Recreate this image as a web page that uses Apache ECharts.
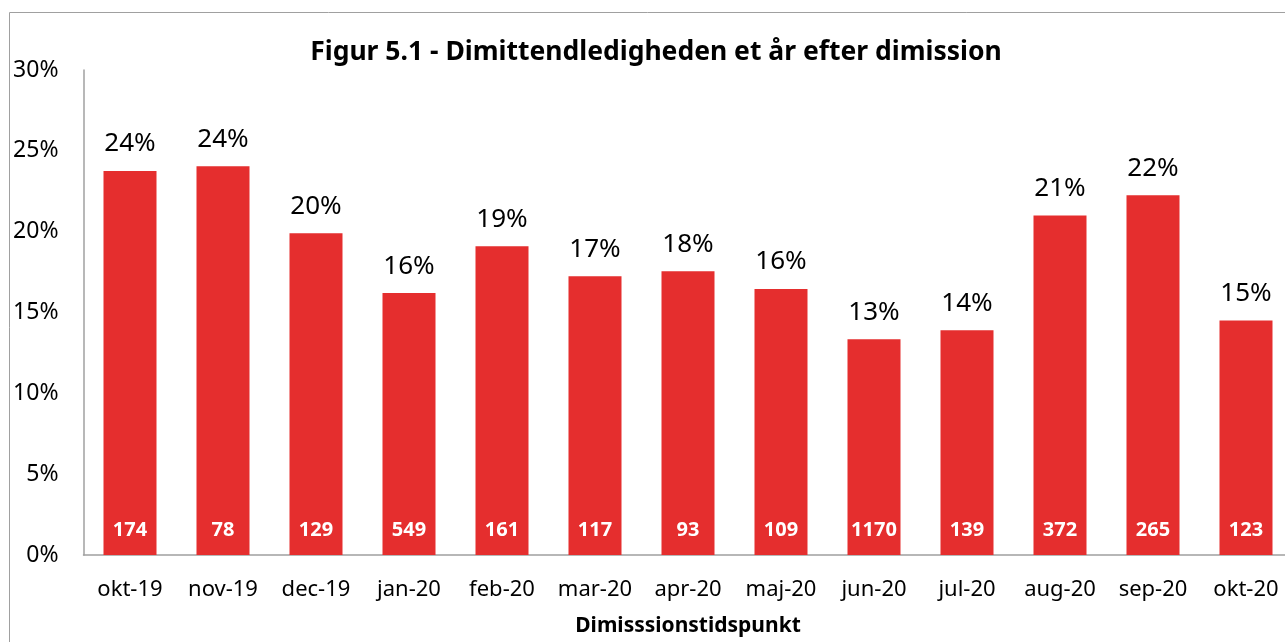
<!DOCTYPE html>
<html><head><meta charset="utf-8">
<script src="https://cdn.jsdelivr.net/npm/echarts@6/dist/echarts.min.js"></script>
<style>html,body{margin:0;padding:0;background:#fff}#c{width:1285px;height:642px}</style>
</head><body><div id="c"></div>
<script>
const categories = ['okt-19','nov-19','dec-19','jan-20','feb-20','mar-20','apr-20','maj-20','jun-20','jul-20','aug-20','sep-20','okt-20'];
const rates = [23.75, 24.05, 19.9, 16.2, 19.1, 17.25, 17.55, 16.45, 13.35, 13.9, 21.0, 22.25, 14.5];
const counts = [174, 78, 129, 549, 161, 117, 93, 109, 1170, 139, 372, 265, 123];
const yTicks = [0, 5, 10, 15, 20, 25, 30];

const font = '"Noto Sans", "Open Sans", sans-serif';
const chart = echarts.init(document.getElementById('c'), null, {renderer: 'canvas'});
chart.setOption({
  animation: false,
  title: {
    text: 'Figur 5.1 - Dimittendledigheden et år efter dimission',
    left: 651, top: 34, textAlign: 'center',
    textStyle: {fontFamily: font, fontSize: 26.5, fontWeight: 'bold', color: '#000'}
  },
  graphic: [{
    type: 'rect', shape: {x: 9.5, y: 12.5, width: 1300, height: 700},
    style: {fill: 'none', stroke: '#A0A0A0', lineWidth: 1}, silent: true
  }],
  grid: {left: 83.5, width: 1209, top: 70, height: 485, containLabel: false, outerBoundsMode: 'none'},
  xAxis: {
    type: 'category', data: categories,
    axisLine: {lineStyle: {color: '#A0A0A0', width: 1.5}},
    axisTick: {show: false},
    axisLabel: {fontFamily: font, fontSize: 22, color: '#000', margin: 24, interval: 0, hideOverlap: false},
    name: 'Dimisssionstidspunkt', nameLocation: 'middle', nameGap: 61,
    nameTextStyle: {fontFamily: font, fontSize: 21, fontWeight: 'bold', color: '#000'}
  },
  yAxis: {
    type: 'value', min: yTicks[0], max: yTicks[yTicks.length - 1], interval: 5,
    axisLine: {show: true, lineStyle: {color: '#A0A0A0', width: 1.5}},
    axisTick: {show: false},
    splitLine: {show: false},
    axisLabel: {fontFamily: font, fontSize: 23, color: '#000', margin: 25, formatter: v => v + '%'}
  },
  series: [
    {
      type: 'bar', data: rates, barWidth: '57%', barGap: '-100%',
      itemStyle: {color: '#E52E2E'},
      label: {show: true, position: 'top', distance: 14, fontFamily: font, fontSize: 26, color: '#000',
        formatter: p => Math.round(p.value) + '%'}
    },
    {
      type: 'bar', data: rates, barWidth: '57%', barGap: '-100%',
      itemStyle: {color: 'rgba(0,0,0,0)'},
      label: {show: true, position: 'insideBottom', distance: 15, fontFamily: font, fontSize: 20, fontWeight: 'bold', color: '#fff',
        formatter: p => String(counts[p.dataIndex])}
    }
  ]
});
</script></body></html>
